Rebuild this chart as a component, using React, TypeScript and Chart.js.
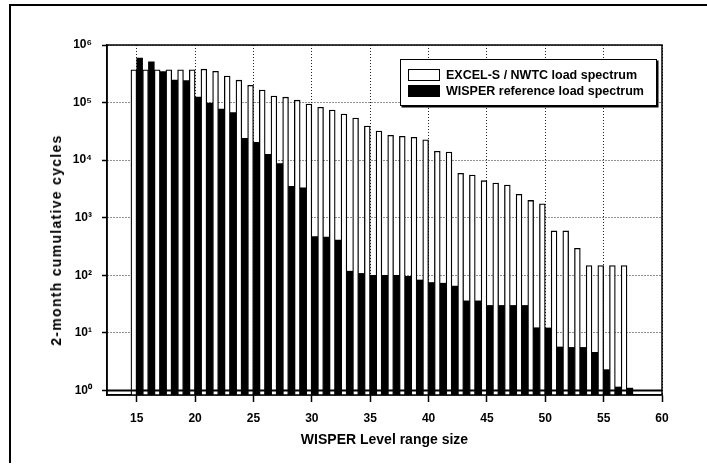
import React, { useEffect, useRef } from 'react';
import { Chart, registerables } from 'chart.js';

Chart.register(...registerables);

const LEVELS = [15, 16, 17, 18, 19, 20, 21, 22, 23, 24, 25, 26, 27, 28, 29, 30, 31, 32, 33, 34, 35, 36, 37, 38, 39, 40, 41, 42, 43, 44, 45, 46, 47, 48, 49, 50, 51, 52, 53, 54, 55, 56, 57];

const EXCEL_CYCLES = [
  3.7e5, 3.7e5, 3.7e5, 3.7e5, 3.7e5, 3.7e5, 3.8e5, 3.5e5, 2.9e5, 2.45e5,
  2.0e5, 1.65e5, 1.3e5, 1.24e5, 1.1e5, 9.4e4, 8.3e4, 7.4e4, 6.3e4, 5.4e4,
  3.9e4, 3.2e4, 2.7e4, 2.6e4, 2.5e4, 2.25e4, 1.43e4, 1.38e4, 5.9e3, 5.5e3,
  4.4e3, 4.0e3, 3.7e3, 2.55e3, 2.0e3, 1.75e3, 590, 590, 295, 148,
  148, 148, 148,
];

const WISPER_CYCLES = [
  5.9e5, 5.1e5, 3.45e5, 2.45e5, 2.4e5, 1.25e5, 9.8e4, 7.7e4, 6.7e4, 2.4e4,
  2.05e4, 1.26e4, 8.7e3, 3.5e3, 3.3e3, 470, 460, 410, 118, 108,
  100, 100, 100, 96, 83, 75, 73, 65, 36, 36,
  30, 30, 30, 30, 12.3, 12.2, 5.7, 5.6, 5.6, 4.6,
  2.3, 1.15, 1.1,
];

const X_TICKS = [15, 20, 25, 30, 35, 40, 45, 50, 55, 60];
const Y_TICKS = [1, 10, 100, 1000, 10000, 100000, 1000000];
const Y_TICK_LABELS = ['10⁰', '10¹', '10²', '10³', '10⁴', '10⁵', '10⁶'];
const X_MIN = 12.45;
const X_MAX = 60;
const Y_MIN = 0.835;
const Y_MAX = 1e6;
const BASELINE_X = [X_MIN, X_MAX];
const BASELINE_Y = [1, 1];

const SERIES_NAMES = ['EXCEL-S / NWTC load spectrum', 'WISPER reference load spectrum'];
const X_TITLE = 'WISPER Level range size';
const Y_TITLE = '2-month cumulative cycles';

const FONT = '"Liberation Sans", Arial, Helvetica, sans-serif';

const framePlugin = {
  id: 'frame',
  afterDatasetsDraw(chart: any) {
    const { ctx, chartArea } = chart;
    const { left, top, right, bottom } = chartArea;
    ctx.save();
    ctx.strokeStyle = '#000';
    ctx.lineWidth = 1.5;
    ctx.strokeRect(left, top, right - left, bottom - top);
    ctx.restore();
  },
};

export default function App() {
  const ref = useRef<HTMLCanvasElement | null>(null);

  useEffect(() => {
    if (!ref.current) return;
    Chart.defaults.font.family = FONT;
    Chart.defaults.color = '#000';
    const chart = new Chart(ref.current, {
      type: 'bar',
      data: {
        datasets: [
          {
            type: 'line',
            label: 'baseline',
            data: BASELINE_X.map((x, i) => ({ x, y: BASELINE_Y[i] })),
            borderColor: '#000',
            borderWidth: 2,
            pointRadius: 0,
            order: -1,
          } as any,
          {
            label: SERIES_NAMES[0],
            data: LEVELS.map((x, i) => ({ x, y: EXCEL_CYCLES[i] })),
            backgroundColor: '#fff',
            borderColor: '#000',
            borderWidth: 1.3,
            categoryPercentage: 1,
            barPercentage: 1,
          },
          {
            label: SERIES_NAMES[1],
            data: LEVELS.map((x, i) => ({ x, y: WISPER_CYCLES[i] })),
            backgroundColor: '#000',
            borderColor: '#000',
            borderWidth: 0,
            categoryPercentage: 1,
            barPercentage: 1,
          },
        ],
      },
      options: {
        animation: false,
        responsive: false,
        maintainAspectRatio: false,
        layout: { padding: { left: 0, right: 45, top: 45, bottom: 0 } },
        plugins: {
          legend: { display: false },
          tooltip: { enabled: false },
        },
        scales: {
          x: {
            type: 'linear',
            min: X_MIN,
            max: X_MAX,
            offset: false,
            afterBuildTicks: (scale: any) => {
              scale.ticks = X_TICKS.map((v) => ({ value: v }));
            },
            afterFit: (scale: any) => {
              scale.height = 72;
            },
            ticks: {
              autoSkip: false,
              maxRotation: 0,
              padding: 9,
              font: { size: 12, weight: 'bold' },
              color: '#000',
              callback: (v: any) => String(v),
            },
            grid: {
              color: '#222',
              lineWidth: 1,
              tickLength: 7,
              tickColor: '#000',
              tickWidth: 1.5,
              offset: false,
            },
            border: { display: true, color: '#000', width: 1.5, dash: [1, 2] },
            title: {
              display: true,
              text: X_TITLE,
              font: { size: 14, weight: 'bold' },
              color: '#000',
              padding: { top: 0, bottom: 18.6 },
            },
          },
          y: {
            type: 'logarithmic',
            min: Y_MIN,
            max: Y_MAX,
            afterBuildTicks: (scale: any) => {
              scale.ticks = Y_TICKS.map((v) => ({ value: v }));
            },
            afterFit: (scale: any) => {
              scale.width = 107;
            },
            ticks: {
              autoSkip: false,
              padding: 10,
              font: { size: 12, weight: 'bold' },
              color: '#000',
              callback: (v: any) => {
                const i = Y_TICKS.indexOf(Number(v));
                return i >= 0 ? Y_TICK_LABELS[i] : '';
              },
            },
            grid: {
              color: '#222',
              lineWidth: 1,
              tickLength: 5,
              tickColor: '#000',
              tickWidth: 1.5,
            },
            border: { display: true, color: '#000', width: 1.5, dash: [1, 2] },
          },
        },
      },
      plugins: [framePlugin],
    } as any);
    return () => chart.destroy();
  }, []);

  return (
    <div style={{ position: 'absolute', left: 0, top: 0, width: 707, height: 467, background: '#fff', fontFamily: FONT }}>
      <div
        style={{
          position: 'absolute',
          left: 9,
          top: 4,
          width: 698,
          height: 459,
          borderTop: '2px solid #000',
          borderLeft: '2px solid #000',
          boxSizing: 'border-box',
        }}
      />
      <canvas ref={ref} width={707} height={467} style={{ position: 'absolute', left: 0, top: 0, width: 707, height: 467 }} />
      <div
        style={{
          position: 'absolute',
          left: 56,
          top: 240,
          transform: 'translate(-50%, -50%) rotate(-90deg)',
          whiteSpace: 'nowrap',
          fontWeight: 'bold',
          fontSize: 14,
          letterSpacing: '1.3px',
          color: '#000',
        }}
      >
        {Y_TITLE}
      </div>
      <div
        style={{
          position: 'absolute',
          left: 400,
          top: 59,
          width: 257,
          height: 47,
          border: '1.5px solid #000',
          boxShadow: '1.5px 1.5px 0 #000',
          background: '#fff',
          boxSizing: 'border-box',
        }}
      >
        {SERIES_NAMES.map((name, i) => (
          <div key={name} style={{ position: 'absolute', left: 7, top: i === 0 ? 8 : 24, height: 14, display: 'flex', alignItems: 'center', whiteSpace: 'nowrap' }}>
            <div
              style={{
                width: 32,
                height: 12,
                boxSizing: 'border-box',
                border: '1.5px solid #000',
                background: i === 0 ? '#fff' : '#000',
                marginRight: 6,
              }}
            />
            <span style={{ fontSize: 12.5, fontWeight: 'bold', color: '#000' }}>{name}</span>
          </div>
        ))}
      </div>
    </div>
  );
}
